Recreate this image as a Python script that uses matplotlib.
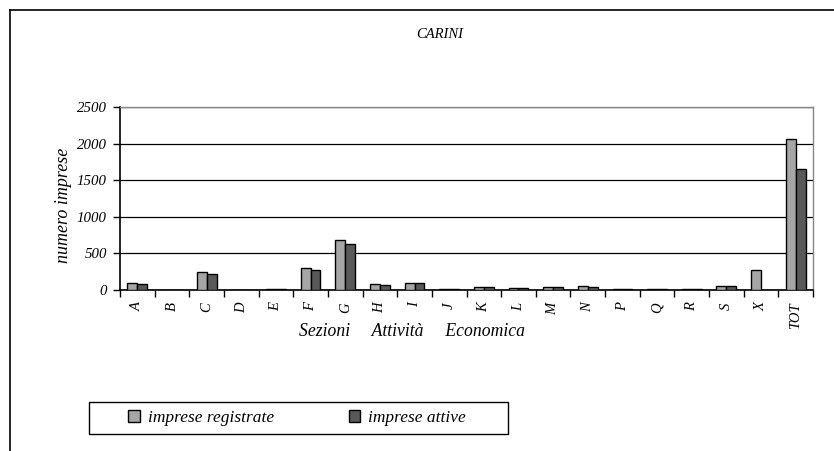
import matplotlib
matplotlib.use("Agg")
import matplotlib.pyplot as plt
import numpy as np
from matplotlib.lines import Line2D
from matplotlib.patches import Rectangle

categories = ["A", "B", "C", "D", "E", "F", "G", "H", "I", "J", "K", "L",
              "M", "N", "P", "Q", "R", "S", "X", "TOT"]
registrate = [90, 0, 240, 0, 15, 300, 685, 85, 100, 20, 40, 30, 45, 50, 10, 10, 20, 60, 280, 2060]
attive = [80, 0, 215, 0, 10, 280, 635, 75, 95, 20, 35, 25, 40, 45, 8, 8, 12, 60, 5, 1655]
series_names = ["imprese registrate", "imprese attive"]
title = "CARINI"
ylabel = "numero imprese"
xlabel = "Sezioni     Attività     Economica"
yticks = [0, 500, 1000, 1500, 2000, 2500]

plt.rcParams['font.family'] = ['Liberation Serif', 'DejaVu Serif']

W, H = 834, 451
fig = plt.figure(figsize=(W / 100, H / 100), dpi=100)

# outer border (top and left visible)
fig.add_artist(Line2D([10 / W, 10 / W], [0, 1 - 10 / H], transform=fig.transFigure, color='black', lw=1.2))
fig.add_artist(Line2D([10 / W, 1], [1 - 10 / H, 1 - 10 / H], transform=fig.transFigure, color='black', lw=1.2))

left, right, top, bottom = 120, 813, 107, 290
ax = fig.add_axes([left / W, 1 - bottom / H, (right - left) / W, (bottom - top) / H])

x = np.arange(len(categories))
bw = 0.286
ax.bar(x - bw / 2, registrate, width=bw, color='#A6A6A6', edgecolor='black', linewidth=1.0, label=series_names[0], zorder=3)
ax.bar(x + bw / 2, attive, width=bw, color='#595959', edgecolor='black', linewidth=1.0, label=series_names[1], zorder=3)

ax.set_xlim(-0.5, len(categories) - 0.5)
ax.set_ylim(0, 2500)
ax.set_yticks(yticks)
ax.set_yticklabels([str(v) for v in yticks], fontsize=10.7, fontstyle='italic')
ax.yaxis.grid(True, color='black', linewidth=0.9, zorder=0)
ax.set_axisbelow(True)

ax.set_xticks(np.arange(len(categories) + 1) - 0.5)
ax.set_xticklabels([])
ax.set_xticks(x, minor=True)
ax.set_xticklabels(categories, minor=True, rotation=90, fontsize=10.5, fontstyle='italic')
ax.tick_params(axis='x', which='minor', length=0, pad=9)
ax.tick_params(axis='x', which='major', length=5, direction='out', width=1)
ax.tick_params(axis='y', length=5, direction='out', width=1, pad=4.5)

for s in ['left', 'bottom']:
    ax.spines[s].set_color('black')
    ax.spines[s].set_linewidth(1.2)
for s in ['top', 'right']:
    ax.spines[s].set_color('#888888')
    ax.spines[s].set_linewidth(1.0)

fig.text(440 / W, 1 - 35 / H, title, ha='center', va='center', fontsize=10.5, fontstyle='italic')
fig.text(63 / W, 1 - 205 / H, ylabel, ha='center', va='center', rotation=90, fontsize=13, fontstyle='italic')
fig.text(412 / W, 1 - 331 / H, xlabel, ha='center', va='center', fontsize=12.7, fontstyle='italic')

# legend box
fig.add_artist(Rectangle((89 / W, 1 - 434 / H), (508 - 89) / W, (434 - 402) / H, transform=fig.transFigure,
                         facecolor='white', edgecolor='black', linewidth=1.0))
leg = fig.legend(loc='center', bbox_to_anchor=(297 / W, 1 - 418 / H), ncol=2, frameon=False,
                 prop={'size': 12.5, 'style': 'italic'}, handlelength=0.69, handleheight=0.69,
                 columnspacing=4.3, borderpad=0.2, handletextpad=0.46)

fig.savefig("out.png", dpi=100)
